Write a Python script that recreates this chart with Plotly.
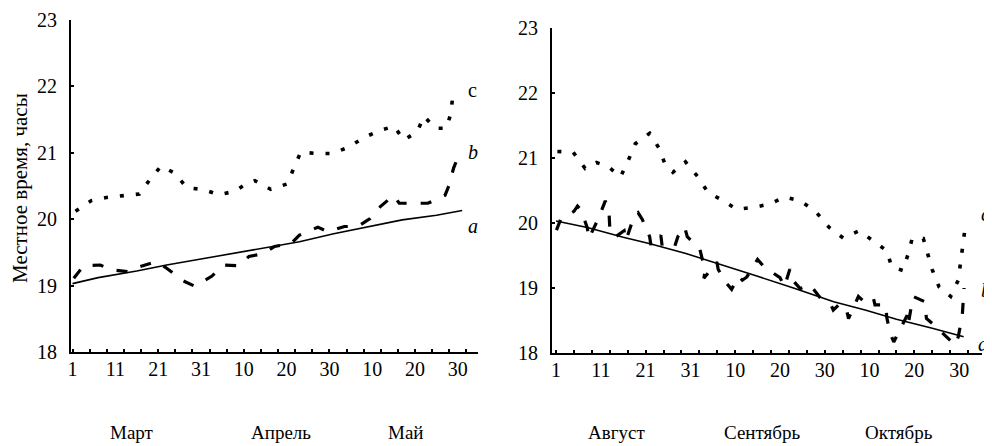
import plotly.graph_objects as go

# ---------------- data (days from the 1st of the first month) ----------------
# Left panel: March - May
left_a_days = [0, 6, 15, 22, 30, 38, 45, 53, 61, 69, 77, 85, 91]
left_a_vals = [19.03, 19.12, 19.22, 19.31, 19.40, 19.49, 19.57, 19.66, 19.78, 19.89, 19.99, 20.06, 20.13]

left_b_days = [0.3, 2.6, 6.5, 8.8, 13, 15.4, 19.5, 21.6, 25.9, 28.6, 32.5, 35.3, 38.9, 41.2,
               44.5, 47.2, 51, 53, 57.3, 59.6, 63.5, 66.6, 69.5, 71.9, 75, 76.3, 80.2, 83,
               87, 88, 89, 90]
left_b_vals = [19.11, 19.30, 19.31, 19.24, 19.21, 19.28, 19.36, 19.28, 19.07, 18.99, 19.14, 19.31,
               19.30, 19.44, 19.48, 19.59, 19.63, 19.76, 19.88, 19.81, 19.89, 19.89, 20.01, 20.19,
               20.36, 20.24, 20.24, 20.24, 20.36, 20.52, 20.77, 20.93]

left_c_days = [0.7, 4.4, 8.2, 12, 15.6, 18, 20.7, 23.7, 26.8, 30.3, 34.2, 37.9, 40.5, 42.6,
               46.3, 50.1, 51.7, 53.3, 56.9, 60.6, 64.3, 68.1, 71.5, 75.1, 77.4, 80.5, 82.1,
               84.7, 87.3, 88.4, 88.8]
left_c_vals = [20.12, 20.28, 20.33, 20.36, 20.38, 20.59, 20.80, 20.70, 20.47, 20.45, 20.37, 20.42,
               20.53, 20.58, 20.45, 20.53, 20.77, 21.01, 20.99, 20.99, 21.08, 21.23, 21.33, 21.40,
               21.19, 21.32, 21.55, 21.37, 21.37, 21.60, 21.86]

# Right panel: August - October
right_a_days = [0, 7, 15, 21, 29, 37, 45, 53, 62, 69, 76, 84, 91]
right_a_vals = [20.03, 19.93, 19.78, 19.68, 19.53, 19.36, 19.18, 19.00, 18.79, 18.66, 18.52, 18.38, 18.25]

right_b_days = [0.1, 1, 4, 4.8, 5.6, 7, 7.3, 8.6, 9.4, 11, 11.8, 12, 13.1, 15.2, 15.6, 17.5,
                18.3, 19.3, 20.9, 21.2, 23.4, 23.7, 26.5, 27.2, 28.7, 29.3, 32.1, 32.7, 33.4,
                33.0, 35.9, 36.2, 37.7, 39.2, 40.7, 41.6, 42.6, 45, 46.5, 50, 51, 52.2, 52.7,
                54.5, 56.7, 59.1, 60, 61.5, 61.9, 62.5, 63.4, 64.9, 65.3, 67.5, 68.6, 70.8,
                71.2, 73.7, 73.8, 74.6, 75.4, 78.4, 78.6, 79.7, 82.3, 82.7, 84.9, 89.1, 89.8,
                90.7, 90.8, 91, 91.1]
right_b_vals = [19.89, 20.05, 20.18, 20.26, 20.20, 19.92, 19.76, 19.93, 20.06, 20.34, 20.20, 19.93,
                19.78, 19.88, 19.73, 20.12, 20.16, 20.05, 19.79, 19.65, 19.81, 19.64, 19.64, 19.79,
                19.94, 19.79, 19.60, 19.43, 19.30, 19.15, 19.40, 19.29, 19.10, 18.98, 19.18, 19.12,
                19.17, 19.44, 19.32, 19.16, 19.02, 19.29, 19.13, 18.99, 19.05, 18.84, 18.79, 18.72,
                18.66, 18.70, 18.76, 18.65, 18.53, 18.87, 18.80, 18.86, 18.74, 18.74, 18.56, 18.30,
                18.17, 18.58, 18.43, 18.87, 18.79, 18.53, 18.40, 18.12, 18.25, 18.58, 18.74, 18.92,
                19.00]

right_c_days = [0.3, 3.8, 6.5, 9, 11.6, 14.4, 16.1, 17.7, 20.9, 23, 24.3, 26.1, 28.9, 31.8, 33.9,
                37.4, 40.3, 44.1, 47.6, 51.1, 54.5, 57.8, 61, 64.1, 67.7, 71.2, 73.9, 74.9, 77.4,
                78.6, 79.5, 82, 83.1, 84, 85.5, 88.1, 89.8, 90.2, 90.6, 91.2]
right_c_vals = [21.10, 21.09, 20.84, 20.93, 20.87, 20.71, 20.96, 21.22, 21.38, 21.15, 20.91, 20.78,
                20.94, 20.70, 20.47, 20.34, 20.21, 20.24, 20.29, 20.40, 20.34, 20.19, 19.93, 19.77,
                19.88, 19.71, 19.57, 19.33, 19.27, 19.52, 19.76, 19.76, 19.52, 19.28, 19.02, 18.87,
                19.12, 19.35, 19.61, 19.86]

# tick labels
tick_label_days = [0, 10, 20, 30, 40, 50, 60, 70, 80, 90]
left_tick_labels = ["1", "11", "21", "31", "10", "20", "30", "10", "20", "30"]
right_tick_labels = ["1", "11", "21", "31", "10", "20", "30", "10", "20", "30"]
minor_tick_days = list(range(0, 93, 4))
y_ticks = [18, 19, 20, 21, 22, 23]

left_months = ["Март", "Апрель", "Май"]
left_month_days = [14, 48.7, 78]
right_months = ["Август", "Сентябрь", "Октябрь"]
right_month_days = [13.6, 46, 76.6]

y_title = "Местное время, часы"

# ---------------- figure ----------------
# the page body has an 8px margin, so the figure is 8px smaller and all
# positions below are given in window pixels and shifted by that offset
OFF = 8
W, H = 992 - OFF, 446 - OFF
def fx(px):
    return (px - OFF) / W
def fy(py):
    return 1 - (py - OFF) / H

FONT = "Liberation Serif"
BLACK = "#000000"

fig = go.Figure()

def add_series(days_a, vals_a, days_b, vals_b, days_c, vals_c, xa, ya):
    fig.add_trace(go.Scatter(x=days_a, y=vals_a, mode="lines", xaxis=xa, yaxis=ya,
                             line=dict(color=BLACK, width=1.6), showlegend=False, hoverinfo="skip"))
    fig.add_trace(go.Scatter(x=days_b, y=vals_b, mode="lines", xaxis=xa, yaxis=ya,
                             line=dict(color=BLACK, width=3.2, dash="11px,14px"),
                             showlegend=False, hoverinfo="skip"))
    fig.add_trace(go.Scatter(x=days_c, y=vals_c, mode="lines", xaxis=xa, yaxis=ya,
                             line=dict(color=BLACK, width=3.6, dash="4px,12px"),
                             showlegend=False, hoverinfo="skip"))

add_series(left_a_days, left_a_vals, left_b_days, left_b_vals, left_c_days, left_c_vals, "x", "y")
add_series(right_a_days, right_a_vals, right_b_days, right_b_vals, right_c_days, right_c_vals, "x2", "y2")

# invisible traces for label overlay axes
fig.add_trace(go.Scatter(x=[0], y=[18], mode="markers", xaxis="x3", yaxis="y",
                         marker=dict(opacity=0), showlegend=False, hoverinfo="skip"))
fig.add_trace(go.Scatter(x=[0], y=[18], mode="markers", xaxis="x4", yaxis="y2",
                         marker=dict(opacity=0), showlegend=False, hoverinfo="skip"))

tickfont = dict(family=FONT, size=20, color=BLACK)

def xaxis_ticks(dom, rng, anchor):
    return dict(domain=dom, range=rng, anchor=anchor, showline=True, linewidth=2,
                linecolor=BLACK, showgrid=False, zeroline=False, tickmode="array",
                tickvals=minor_tick_days, ticks="inside", ticklen=3, tickwidth=1.5,
                tickcolor=BLACK, showticklabels=False, fixedrange=True, automargin=False)

def xaxis_labels(over, rng, anchor, texts):
    return dict(overlaying=over, matches=over, range=rng, anchor=anchor, side="bottom",
                showline=False, showgrid=False, zeroline=False, tickmode="array",
                tickvals=tick_label_days, ticktext=texts, ticks="", tickfont=tickfont,
                ticklabelstandoff=3, fixedrange=True, automargin=False)

def yaxis_def(dom, anchor):
    return dict(domain=dom, range=[18, 23], anchor=anchor, showline=True, linewidth=2,
                linecolor=BLACK, showgrid=False, zeroline=False, tickmode="array",
                tickvals=y_ticks, ticks="inside", ticklen=3, tickwidth=1.5, tickcolor=BLACK,
                tickfont=tickfont, ticklabelstandoff=8, fixedrange=True, automargin=False)

left_range = [-0.35, 94.7]
right_range = [-0.9, 95.1]

annotations = []
month_font = dict(family=FONT, size=19, color=BLACK)
for txt, d in zip(left_months, left_month_days):
    annotations.append(dict(x=d, y=fy(446), xref="x", yref="paper", text=txt, showarrow=False,
                            font=month_font, xanchor="center", yanchor="bottom", yshift=1))
for txt, d in zip(right_months, right_month_days):
    annotations.append(dict(x=d, y=fy(446), xref="x2", yref="paper", text=txt, showarrow=False,
                            font=month_font, xanchor="center", yanchor="bottom", yshift=1))

annotations.append(dict(x=fx(20), y=fy(188), xref="paper", yref="paper", text=y_title,
                        textangle=-90, showarrow=False, xanchor="center", yanchor="middle",
                        font=dict(family=FONT, size=21, color=BLACK)))

# curve letters
for txt, px, py in [("c", 466, 90), ("<i>b</i>", 466, 152), ("<i>a</i>", 466, 226),
                    ("<i>c</i>", 979, 214), ("<i>b</i>", 979, 290), ("<i>a</i>", 976, 344)]:
    annotations.append(dict(x=fx(px), y=fy(py), xref="paper", yref="paper", text=txt,
                            showarrow=False, xanchor="left", yanchor="middle",
                            font=dict(family=FONT, size=20, color=BLACK)))

fig.update_layout(
    template="none",
    width=W, height=H,
    margin=dict(l=0, r=0, t=0, b=0, pad=0, autoexpand=False),
    paper_bgcolor="white", plot_bgcolor="white",
    showlegend=False,
    xaxis=xaxis_ticks([fx(71), fx(478)], left_range, "y"),
    yaxis=yaxis_def([fy(352), fy(20)], "x"),
    xaxis2=xaxis_ticks([fx(552), fx(982)], right_range, "y2"),
    yaxis2=yaxis_def([fy(353), fy(28)], "x2"),
    xaxis3=xaxis_labels("x", left_range, "y", left_tick_labels),
    xaxis4=xaxis_labels("x2", right_range, "y2", right_tick_labels),
    annotations=annotations,
)

fig.write_html("out.html")
